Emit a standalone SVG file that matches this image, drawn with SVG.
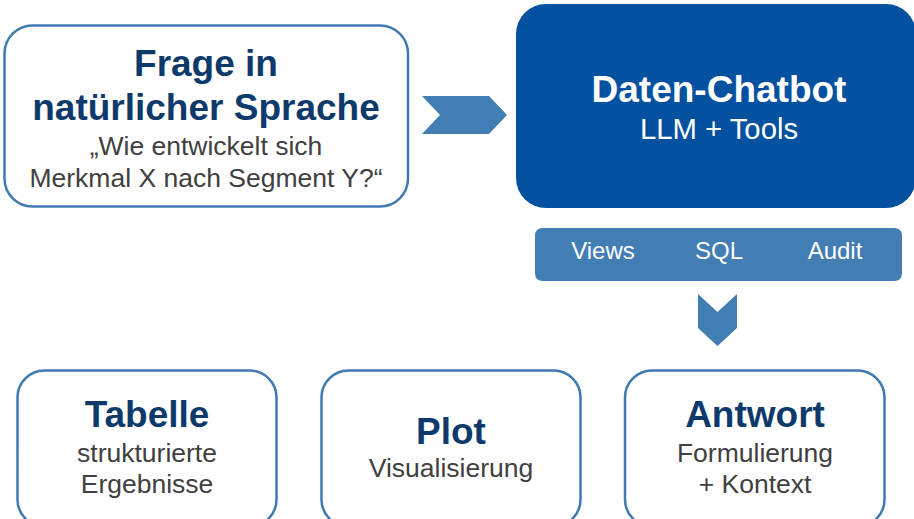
<svg xmlns="http://www.w3.org/2000/svg" width="914" height="519" viewBox="0 0 914 519">
<style>
.box{fill:#ffffff;stroke:#4279b3;stroke-width:2.5}
.title{font-family:"Liberation Sans",Arial,sans-serif;font-weight:bold;font-size:37px;fill:#0e3a6b;text-anchor:middle}
.sub{font-family:"Liberation Sans",Arial,sans-serif;font-size:26.5px;fill:#404040;text-anchor:middle}
.wtitle{font-family:"Liberation Sans",Arial,sans-serif;font-weight:bold;font-size:37px;fill:#ffffff;text-anchor:middle}
.wsub{font-family:"Liberation Sans",Arial,sans-serif;font-size:29.3px;fill:#ffffff;text-anchor:middle}
.tool{font-family:"Liberation Sans",Arial,sans-serif;font-size:24px;fill:#ffffff;text-anchor:middle}
.chev{fill:#427db4}
.seg{fill:#427db4}
</style>
<rect width="914" height="519" fill="#ffffff"/>
<g id="frage">
<rect class="box" x="4.5" y="25.5" width="403.5" height="181" rx="28"/>
<text class="title" x="206" y="76">Frage in</text>
<text class="title" x="206" y="120">natürlicher Sprache</text>
<text class="sub" x="206" y="155">„Wie entwickelt sich</text>
<text class="sub" x="206" y="187">Merkmal X nach Segment Y?“</text>
</g>
<g id="chatbot">
<rect x="516" y="4" width="400" height="204" rx="30" fill="#03519f"/>
<text class="wtitle" x="719" y="102">Daten-Chatbot</text>
<text class="wsub" x="719" y="139">LLM + Tools</text>
</g>
<g id="tools">
<g id="tool-views">
<path class="seg" d="M663.5,228 H543 Q535,228 535,236 V273 Q535,281 543,281 H663.5 Z"/>
<text class="tool" x="603" y="259">Views</text>
</g>
<g id="tool-sql">
<rect class="seg" x="663" y="228" width="114.5" height="53"/>
<text class="tool" x="719" y="259">SQL</text>
</g>
<g id="tool-audit">
<path class="seg" d="M777,228 H894 Q902,228 902,236 V273 Q902,281 894,281 H777 Z"/>
<text class="tool" x="835" y="259">Audit</text>
</g>
</g>
<g id="connectors">
<polygon class="chev" points="422,96 489,96 507,115 489,134 422,134 440,115"/>
<polygon class="chev" points="698,294 717.5,312 737,294 737,328 717.5,346 698,328"/>
</g>
<g id="tabelle">
<rect class="box" x="17.5" y="370.5" width="259" height="156" rx="27"/>
<text class="title" x="147" y="427">Tabelle</text>
<text class="sub" x="147" y="462">strukturierte</text>
<text class="sub" x="147" y="493">Ergebnisse</text>
</g>
<g id="plot">
<rect class="box" x="321.5" y="370.5" width="259" height="156" rx="27"/>
<text class="title" x="451" y="444">Plot</text>
<text class="sub" x="451" y="477">Visualisierung</text>
</g>
<g id="antwort">
<rect class="box" x="625" y="370.5" width="259.5" height="156" rx="27"/>
<text class="title" x="755" y="427">Antwort</text>
<text class="sub" x="755" y="462">Formulierung</text>
<text class="sub" x="755" y="493">+ Kontext</text>
</g>
</svg>
